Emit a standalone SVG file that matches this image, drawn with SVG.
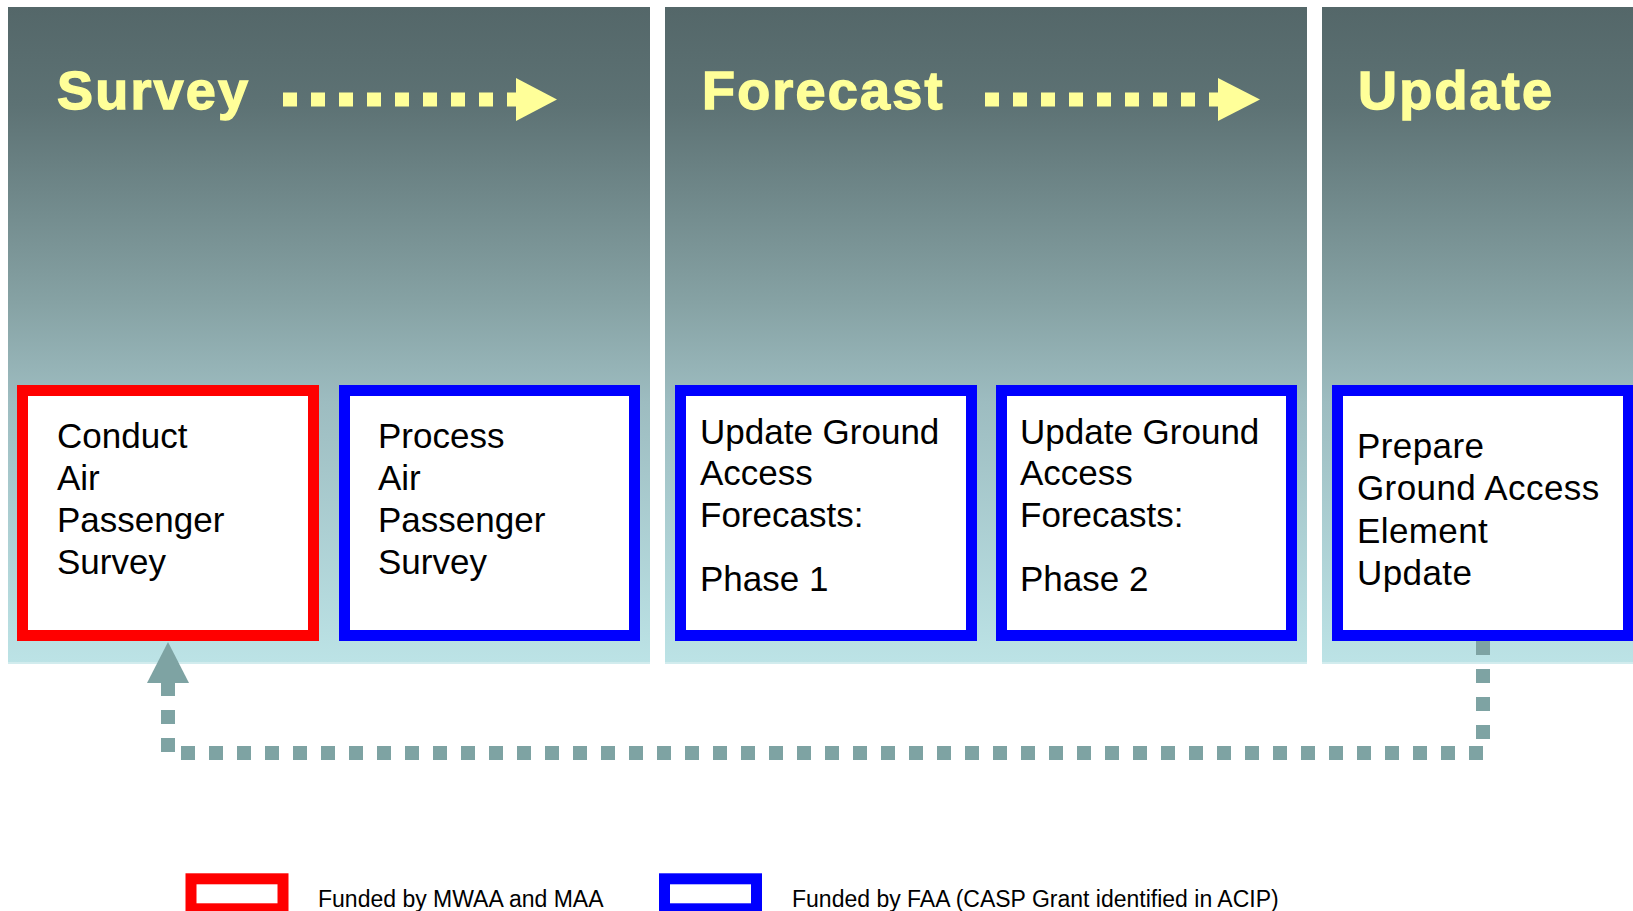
<svg xmlns="http://www.w3.org/2000/svg" width="1633" height="911" viewBox="0 0 1633 911">
<style>
.title{font-family:"Liberation Sans",Arial,sans-serif;font-weight:bold;font-size:54px;fill:#ffff99;stroke:#ffff99;stroke-width:1.4px;letter-spacing:2.2px}
.lbl{font-family:"Liberation Sans",Arial,sans-serif;font-size:35px;fill:#000}
.leg{font-family:"Liberation Sans",Arial,sans-serif;font-size:23px;fill:#000}
.box{fill:#fff;stroke-width:11}
.red{stroke:#ff0000}
.blue{stroke:#0000ff}
.ydots{fill:none;stroke:#ffff99;stroke-width:14;stroke-dasharray:14 14}
.conn{fill:none;stroke:#7ea3a3;stroke-width:14;stroke-dasharray:14 14}
</style>
<defs>
<linearGradient id="pg" x1="0" y1="0" x2="0" y2="1">
<stop offset="0" stop-color="#546769"/>
<stop offset="0.15" stop-color="#5d7274"/>
<stop offset="0.45" stop-color="#86a2a4"/>
<stop offset="0.6" stop-color="#9dbcc0"/>
<stop offset="1" stop-color="#bce3e6"/>
</linearGradient>
<marker id="ah" markerUnits="userSpaceOnUse" markerWidth="42" markerHeight="42" refX="0" refY="21" orient="auto">
<path d="M0,0 L41,21 L0,42 z" fill="#7ea3a3"/>
</marker>
</defs>
<rect width="1633" height="911" fill="#fff"/>
<g id="panel-survey">
<rect x="8" y="7" width="642" height="657" fill="url(#pg)"/>
<rect x="8" y="662" width="642" height="2" fill="#d2ecee"/>
<text class="title" x="57" y="109">Survey</text>
<path class="ydots" d="M283,99.5 H516"/>
<path d="M516,78 L557,99.5 L516,121 z" fill="#ffff99"/>
</g>
<g id="panel-forecast">
<rect x="665" y="7" width="642" height="657" fill="url(#pg)"/>
<rect x="665" y="662" width="642" height="2" fill="#d2ecee"/>
<text class="title" x="702" y="109">Forecast</text>
<path class="ydots" d="M985,99.5 H1218"/>
<path d="M1218,78 L1260,99.5 L1218,121 z" fill="#ffff99"/>
</g>
<g id="panel-update">
<rect x="1322" y="7" width="320" height="657" fill="url(#pg)"/>
<rect x="1322" y="662" width="320" height="2" fill="#d2ecee"/>
<text class="title" x="1358" y="109">Update</text>
</g>
<g id="connectors">
<path class="conn" d="M1483,641 V753 H168 V683" marker-end="url(#ah)"/>
</g>
<g id="box-conduct">
<rect class="box red" x="22.5" y="390.5" width="291" height="245"/>
<text class="lbl" x="57" y="448">Conduct</text>
<text class="lbl" x="57" y="490">Air</text>
<text class="lbl" x="57" y="532">Passenger</text>
<text class="lbl" x="57" y="574">Survey</text>
</g>
<g id="box-process">
<rect class="box blue" x="344.5" y="390.5" width="290" height="245"/>
<text class="lbl" x="378" y="448">Process</text>
<text class="lbl" x="378" y="490">Air</text>
<text class="lbl" x="378" y="532">Passenger</text>
<text class="lbl" x="378" y="574">Survey</text>
</g>
<g id="box-phase1">
<rect class="box blue" x="680.5" y="390.5" width="291" height="245"/>
<text class="lbl" x="700" y="444">Update Ground</text>
<text class="lbl" x="700" y="485">Access</text>
<text class="lbl" x="700" y="527">Forecasts:</text>
<text class="lbl" x="700" y="591">Phase 1</text>
</g>
<g id="box-phase2">
<rect class="box blue" x="1001.5" y="390.5" width="290" height="245"/>
<text class="lbl" x="1020" y="444">Update Ground</text>
<text class="lbl" x="1020" y="485">Access</text>
<text class="lbl" x="1020" y="527">Forecasts:</text>
<text class="lbl" x="1020" y="591">Phase 2</text>
</g>
<g id="box-prepare">
<rect class="box blue" x="1337.5" y="390.5" width="291" height="245"/>
<text class="lbl" x="1357" y="458" style="letter-spacing:0.4px">Prepare</text>
<text class="lbl" x="1357" y="500" style="letter-spacing:0.4px">Ground Access</text>
<text class="lbl" x="1357" y="543" style="letter-spacing:0.4px">Element</text>
<text class="lbl" x="1357" y="585" style="letter-spacing:0.4px">Update</text>
</g>
<g id="legend-mwaa">
<rect class="box red" x="191" y="878.8" width="92" height="30"/>
<text class="leg" x="318" y="907">Funded by MWAA and MAA</text>
</g>
<g id="legend-faa">
<rect class="box blue" x="664.5" y="878.8" width="92" height="30"/>
<text class="leg" x="792" y="907">Funded by FAA (CASP Grant identified in ACIP)</text>
</g>
</svg>
